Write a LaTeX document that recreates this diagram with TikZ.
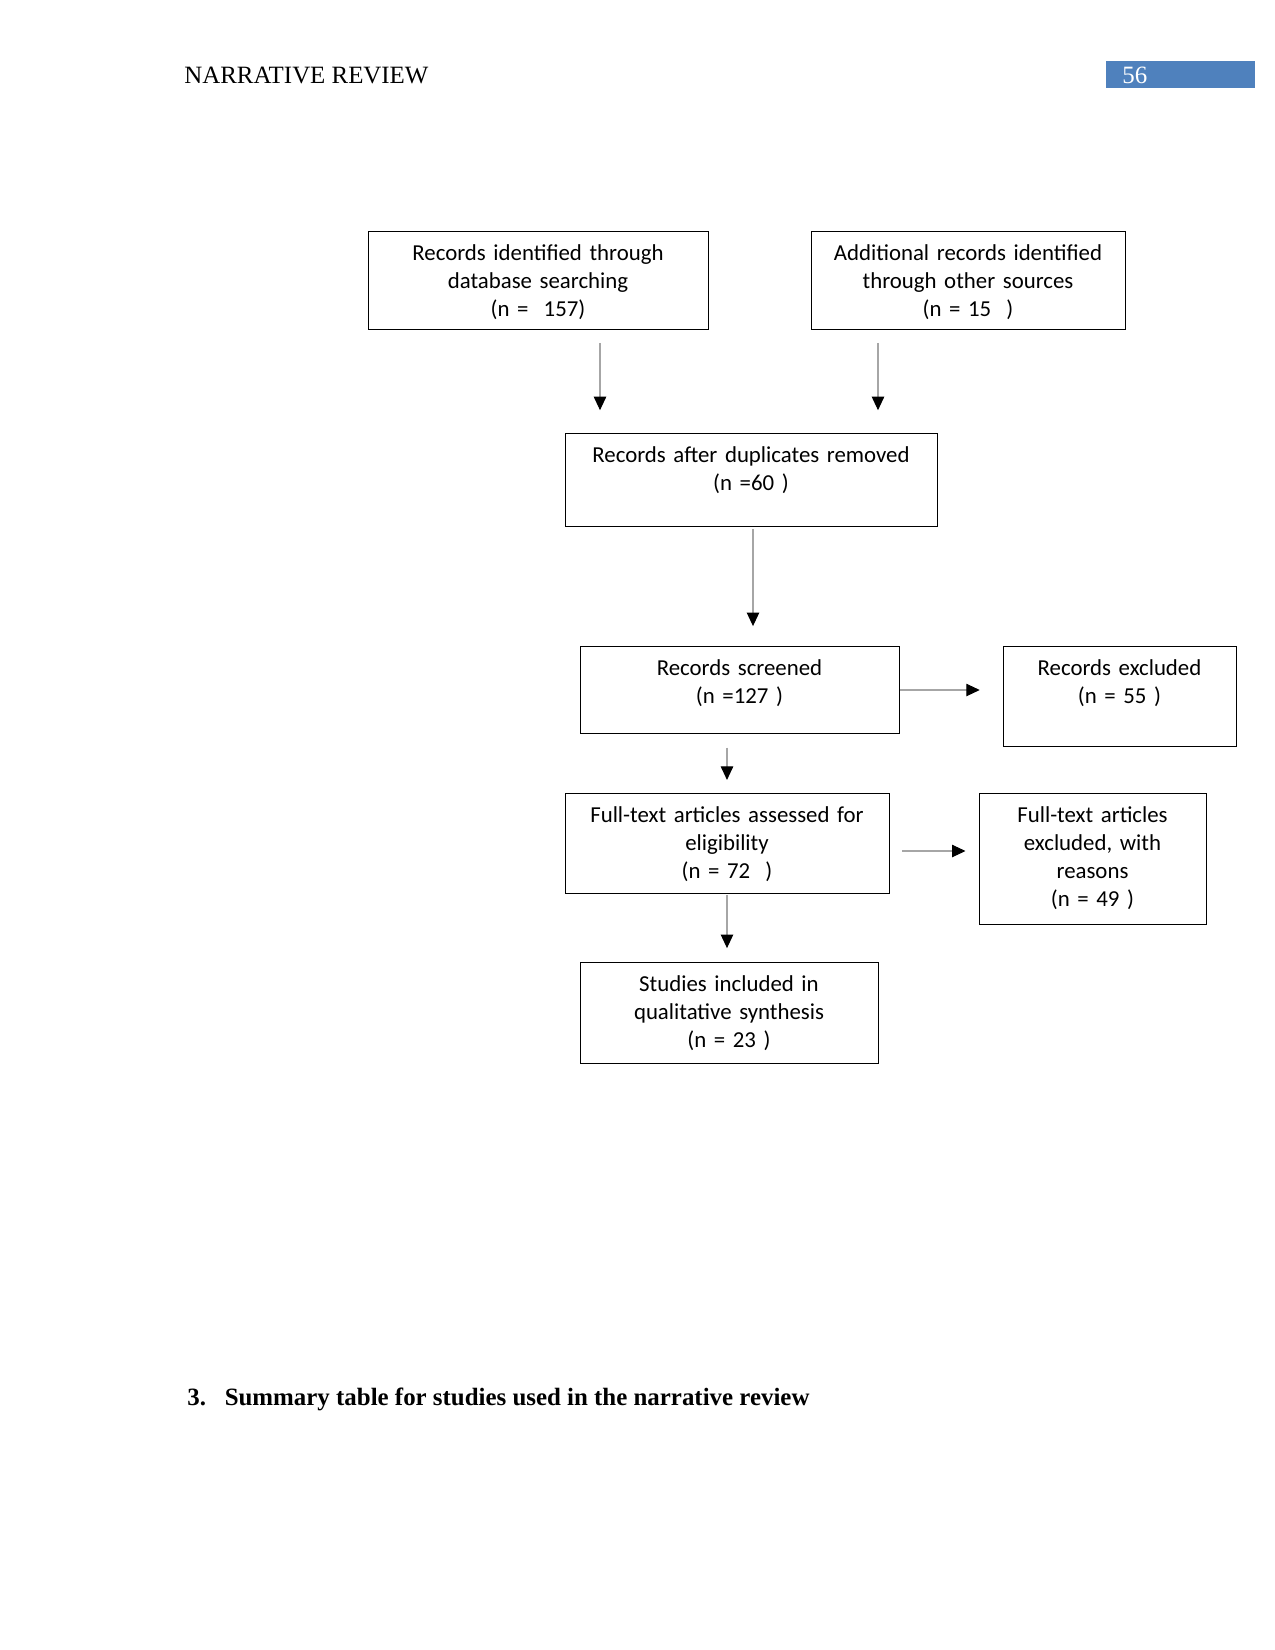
\documentclass[tikz,border=0pt]{standalone}
\usepackage{fontspec}
\setmainfont{Liberation Serif}
\newfontfamily\boxfont{Carlito}
\usepackage{xcolor}
\usepackage{tikz}
\usetikzlibrary{arrows.meta}
\definecolor{pagenum}{RGB}{79, 129, 189}
\definecolor{flowline}{gray}{0.65}

\tikzset{
	flowbox/.style={draw, thin, rectangle, anchor=north, align=center,
		inner xsep=0pt, inner ysep=0pt, text height=14pt,
		font=\boxfont\fontsize{11pt}{13.5pt}\selectfont},
	flow/.style={draw=flowline, line width=0.5pt,
		-{Triangle[length=6.5pt, width=6pt, color=black]}}
}

\begin{document}
\begin{tikzpicture}[x={(0.0169333cm,0)}, y={(0,-0.0169333cm)}]
	\useasboundingbox (0,0) rectangle (1275,1650);

	% --- Running head ---
	\node[anchor=base west, font=\fontsize{12pt}{14pt}\selectfont] (runhead) at (177,83) {NARRATIVE REVIEW};
	\fill[pagenum] (1106,61) rectangle (1255,88);
	\node[anchor=base west, text=white, font=\fontsize{12pt}{14pt}\selectfont] (pageno) at (1115,83) {56};

	% --- Identification ---
	\node[flowbox, text width=163.8pt, text depth=33.2pt] (dbs) at (538,231)
		{Records identified through\\database searching\\(n =~~157)};
	\node[flowbox, text width=151.3pt, text depth=33.2pt] (oth) at (968,231)
		{Additional records identified\\through other sources\\(n = 15~~)};

	% --- Screening ---
	\node[flowbox, text width=179.2pt, text depth=30.8pt] (dup) at (751,433)
		{Records after duplicates removed\\(n =60~)};
	\node[flowbox, text width=153.7pt, text depth=27.9pt] (scr) at (739.5,646)
		{Records screened\\(n =127~)};
	\node[flowbox, text width=112.3pt, text depth=34.2pt] (exc) at (1119.5,646)
		{Records excluded\\(n = 55 )};

	% --- Eligibility ---
	\node[flowbox, text width=156.1pt, text depth=34.2pt] (elig) at (727,793)
		{Full-text articles assessed for\\eligibility\\(n = 72~~)};
	\node[flowbox, text width=109.4pt, text depth=49.1pt] (ftx) at (1092.5,793)
		{Full-text articles\\excluded, with\\reasons\\(n = 49~)};

	% --- Included ---
	\node[flowbox, text width=143.6pt, text depth=34.7pt] (inc) at (729,962)
		{Studies included in\\qualitative synthesis\\(n = 23~)};

	% --- Arrows ---
	\coordinate (a1) at (600,0);
	\coordinate (a2) at (878,0);
	\coordinate (a3) at (753,0);
	\coordinate (a5) at (727,0);
	\coordinate (r4) at (0,690);
	\coordinate (r6) at (0,851);
	\draw[flow, shorten <=6.3pt, shorten >=11pt] (dbs.south -| a1) -- (dup.north -| a1);
	\draw[flow, shorten <=6.3pt, shorten >=11pt] (oth.south -| a2) -- (dup.north -| a2);
	\draw[flow, shorten <=1pt, shorten >=9.6pt] (dup.south -| a3) -- (scr.north -| a3);
	\draw[flow, shorten <=0.5pt, shorten >=11pt] (scr.east |- r4) -- (exc.west |- r4);
	\draw[flow, shorten <=6.7pt, shorten >=6.3pt] (scr.south -| a5) -- (elig.north -| a5);
	\draw[flow, shorten <=6.3pt, shorten >=6.3pt] (elig.east |- r6) -- (ftx.west |- r6);
	\draw[flow, shorten <=0.5pt, shorten >=6.7pt] (elig.south -| a5) -- (inc.north -| a5);

	% --- Section heading ---
	\node[anchor=base west, font=\bfseries\fontsize{12pt}{14pt}\selectfont] (sumhead) at (180,1405)
		{\makebox[0.25in][l]{3.}Summary table for studies used in the narrative review};
\end{tikzpicture}
\end{document}
